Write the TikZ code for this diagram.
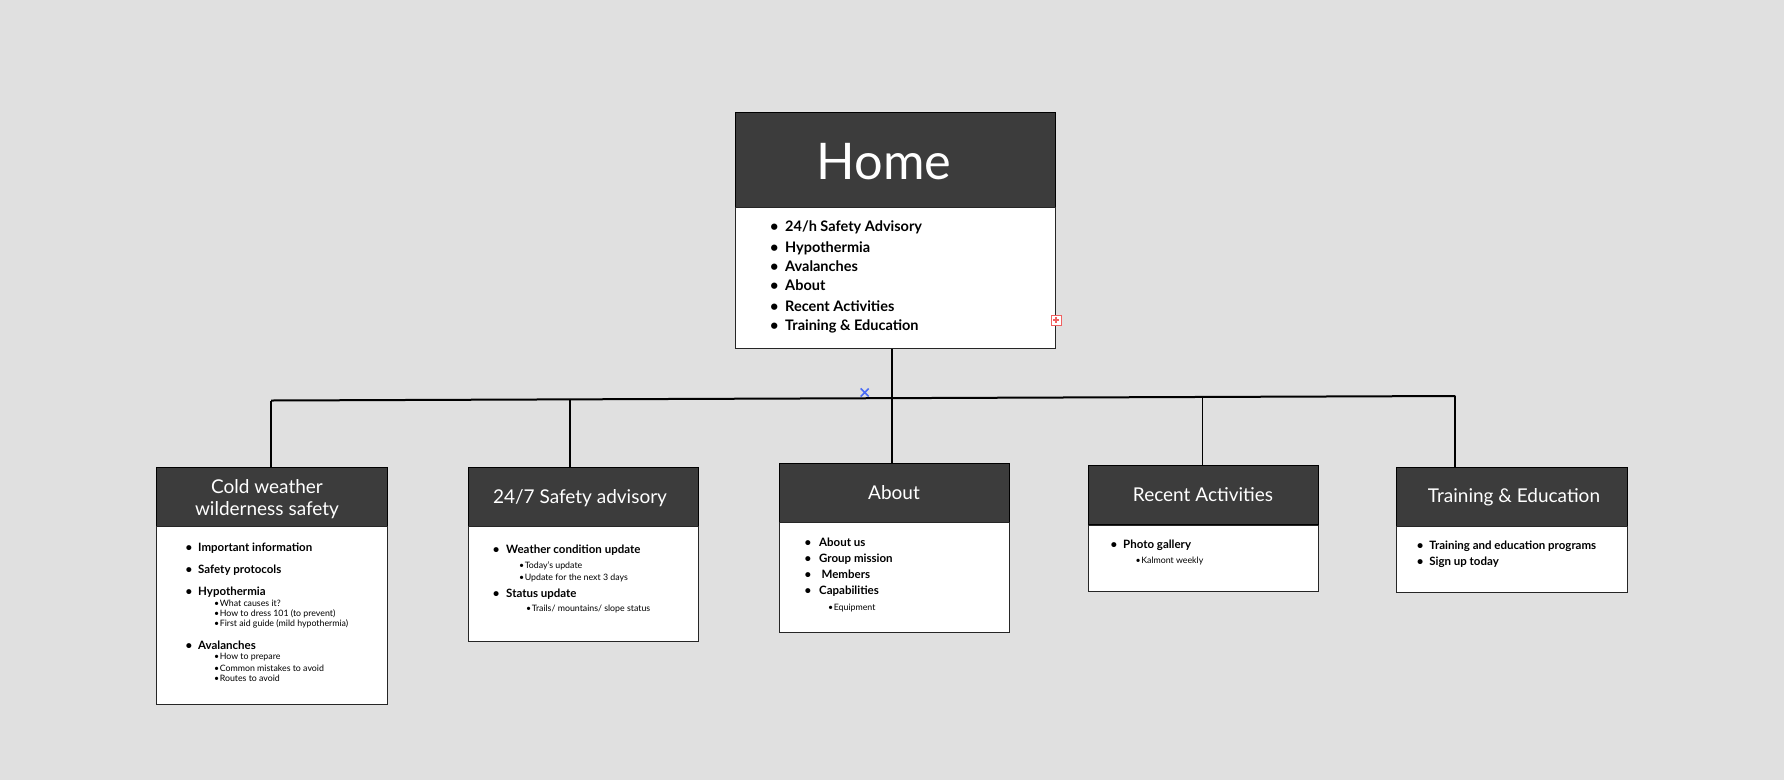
\documentclass[tikz,border=0pt]{standalone}
\usepackage{fontspec}
\usetikzlibrary{calc}
\setmainfont{Lato}
\definecolor{bg}{HTML}{E0E0E0}
\definecolor{hdrgray}{HTML}{3C3C3C}
\definecolor{xblue}{HTML}{4A6CF7}
\definecolor{pinkred}{HTML}{F06060}
\newcommand\fs[1]{\fontsize{#1}{#1}\selectfont}
\begin{document}
\begin{tikzpicture}[x=1pt,y=-1pt,
  hdr/.style={draw=black, fill=hdrgray, line width=0.8pt, inner sep=0, anchor=north west},
  body/.style={draw=black!85, fill=white, line width=0.8pt, inner sep=0, anchor=north west},
  ttl/.style={text=white, align=center, inner sep=0, font=\fs{19}, text height=13.7pt, text depth=0pt},
  itm/.style={anchor=west, inner sep=0, text=black, text depth=0pt},
  big/.style={itm, font=\fs{14.5}\bfseries, text height=10.4pt},
  mid/.style={itm, font=\fs{11.5}\bfseries, text height=8.3pt},
  sml/.style={itm, font=\fs{8.8}, text height=6.3pt},
  wire/.style={line width=2pt, black}]
\fill[bg] (0,0) rectangle (1784,780);
\useasboundingbox (0,0) rectangle (1784,780);

% ---- Home
\node[hdr, minimum width=320pt, minimum height=95.5pt] (homeH) at (735,111.5) {};
\node[body, minimum width=320pt, minimum height=141pt] (homeB) at (735,207) {};
\node[text=white, inner sep=0, font=\fs{50.5}, text height=36.2pt, text depth=0pt] (homeT) at (884,161.5) {Home};
\node[big] (h1) at (770,226.4) {\makebox[15pt][l]{\textbullet}24/h Safety Advisory};
\node[big] (h2) at (770,246.9) {\makebox[15pt][l]{\textbullet}Hypothermia};
\node[big] (h3) at (770,266.2) {\makebox[15pt][l]{\textbullet}Avalanches};
\node[big] (h4) at (770,285.6) {\makebox[15pt][l]{\textbullet}About};
\node[big] (h5) at (770,306.0) {\makebox[15pt][l]{\textbullet}Recent Activities};
\node[big] (h6) at (770,325.4) {\makebox[15pt][l]{\textbullet}Training \& Education};

% ---- Cold weather
\node[hdr, minimum width=231pt, minimum height=59pt] (coldH) at (156,466.5) {};
\node[body, minimum width=231pt, minimum height=178.5pt] (coldB) at (156,525.5) {};
\node[text=white, align=center, inner sep=0, font=\fontsize{19}{21.6}\selectfont] (coldT) at (267,499) {Cold weather\\wilderness safety};
\node[mid] (c1) at (185.5,547.3) {\makebox[12.5pt][l]{\textbullet}Important information};
\node[mid] (c2) at (185.5,568.9) {\makebox[12.5pt][l]{\textbullet}Safety protocols};
\node[mid] (c3) at (185.5,591.7) {\makebox[12.5pt][l]{\textbullet}Hypothermia};
\node[sml] (c4) at (214,603.0) {\makebox[5.6pt][l]{\textbullet}What causes it?};
\node[sml] (c5) at (214,613.3) {\makebox[5.6pt][l]{\textbullet}How to dress 101 (to prevent)};
\node[sml] (c6) at (214,623.5) {\makebox[5.6pt][l]{\textbullet}First aid guide (mild hypothermia)};
\node[mid] (c7) at (185.5,645.1) {\makebox[12.5pt][l]{\textbullet}Avalanches};
\node[sml] (c8) at (214,656.5) {\makebox[5.6pt][l]{\textbullet}How to prepare};
\node[sml] (c9) at (214,667.9) {\makebox[5.6pt][l]{\textbullet}Common mistakes to avoid};
\node[sml] (c10) at (214,678.1) {\makebox[5.6pt][l]{\textbullet}Routes to avoid};

% ---- 24/7
\node[hdr, minimum width=230pt, minimum height=59pt] (safeH) at (467.5,466.5) {};
\node[body, minimum width=230pt, minimum height=115pt] (safeB) at (467.5,525.7) {};
\node[ttl] (safeT) at (580,497) {24/7 Safety advisory};
\node[mid] (s1) at (492.7,549.5) {\makebox[13.3pt][l]{\textbullet}Weather condition update};
\node[sml] (s2) at (519,565.5) {\makebox[5.6pt][l]{\textbullet}Today's update};
\node[sml] (s3) at (519,577.0) {\makebox[5.6pt][l]{\textbullet}Update for the next 3 days};
\node[mid] (s4) at (492.7,593.0) {\makebox[13.3pt][l]{\textbullet}Status update};
\node[sml] (s5) at (526,608.7) {\makebox[5.6pt][l]{\textbullet}Trails/ mountains/ slope status};

% ---- About
\node[hdr, minimum width=230pt, minimum height=59pt] (aboutH) at (779,463) {};
\node[body, minimum width=230pt, minimum height=109.5pt] (aboutB) at (779,522) {};
\node[ttl] (aboutT) at (894,492.6) {About};
\node[mid] (a1) at (804.4,542.7) {\makebox[14.6pt][l]{\textbullet}About us};
\node[mid] (a2) at (804.4,558.7) {\makebox[14.6pt][l]{\textbullet}Group mission};
\node[mid] (a3) at (804.4,574.6) {\makebox[17pt][l]{\textbullet}Members};
\node[mid] (a4) at (804.4,590.5) {\makebox[14.6pt][l]{\textbullet}Capabilities};
\node[sml] (a5) at (828,607.6) {\makebox[5.6pt][l]{\textbullet}Equipment};

% ---- Recent Activities
\node[hdr, minimum width=230pt, minimum height=59pt] (recH) at (1088,465.4) {};
\node[body, minimum width=230pt, minimum height=66pt] (recB) at (1088,524.5) {};
\node[ttl] (recT) at (1203,495) {Recent Activities};
\node[mid] (r1) at (1110.5,544) {\makebox[12.5pt][l]{\textbullet}Photo gallery};
\node[sml] (r2) at (1135.5,560) {\makebox[5.6pt][l]{\textbullet}Kalmont weekly};

% ---- Training & Education
\node[hdr, minimum width=231pt, minimum height=59pt] (trH) at (1396,466.5) {};
\node[body, minimum width=231pt, minimum height=66pt] (trB) at (1396,525.7) {};
\node[ttl] (trT) at (1514,496) {Training \& Education};
\node[mid] (t1) at (1416.6,545) {\makebox[12.5pt][l]{\textbullet}Training and education programs};
\node[mid] (t2) at (1416.6,561) {\makebox[12.5pt][l]{\textbullet}Sign up today};

% ---- connectors
\coordinate (bL) at (271,400.5);
\coordinate (bR) at (1455.3,396);
\coordinate (b2) at (570,399.4);
\coordinate (b3) at (892,398.1);
\coordinate (b4) at (1202.6,397);
\draw[wire] (bL) -- (bR);
\draw[wire, line width=1.6pt] (homeB.south -| b3) -- (b3);
\draw[wire] (bL) -- (bL |- coldH.north);
\draw[wire] (b2) -- (b2 |- safeH.north);
\draw[wire] (b3) -- (b3 |- aboutH.north);
\draw[wire, line width=1.6pt] (b4) -- (b4 |- recH.north);
\draw[wire] (bR) -- (bR |- trH.north);

% ---- editor marks
\coordinate (xm) at (864.7,392.5);
\draw[xblue, line width=1.5pt] ($(xm)+(-4,-4)$) -- ($(xm)+(4,4)$) ($(xm)+(-4,4)$) -- ($(xm)+(4,-4)$);
\coordinate (pm) at (1056,320);
\draw[pinkred, line width=1pt, fill=white] ($(pm)+(-5,-5)$) rectangle ($(pm)+(5,5)$);
\draw[pinkred, line width=1.2pt] ($(pm)+(-3,0)$) -- ($(pm)+(3,0)$) ($(pm)+(0,-3)$) -- ($(pm)+(0,3)$);
\end{tikzpicture}
\end{document}
